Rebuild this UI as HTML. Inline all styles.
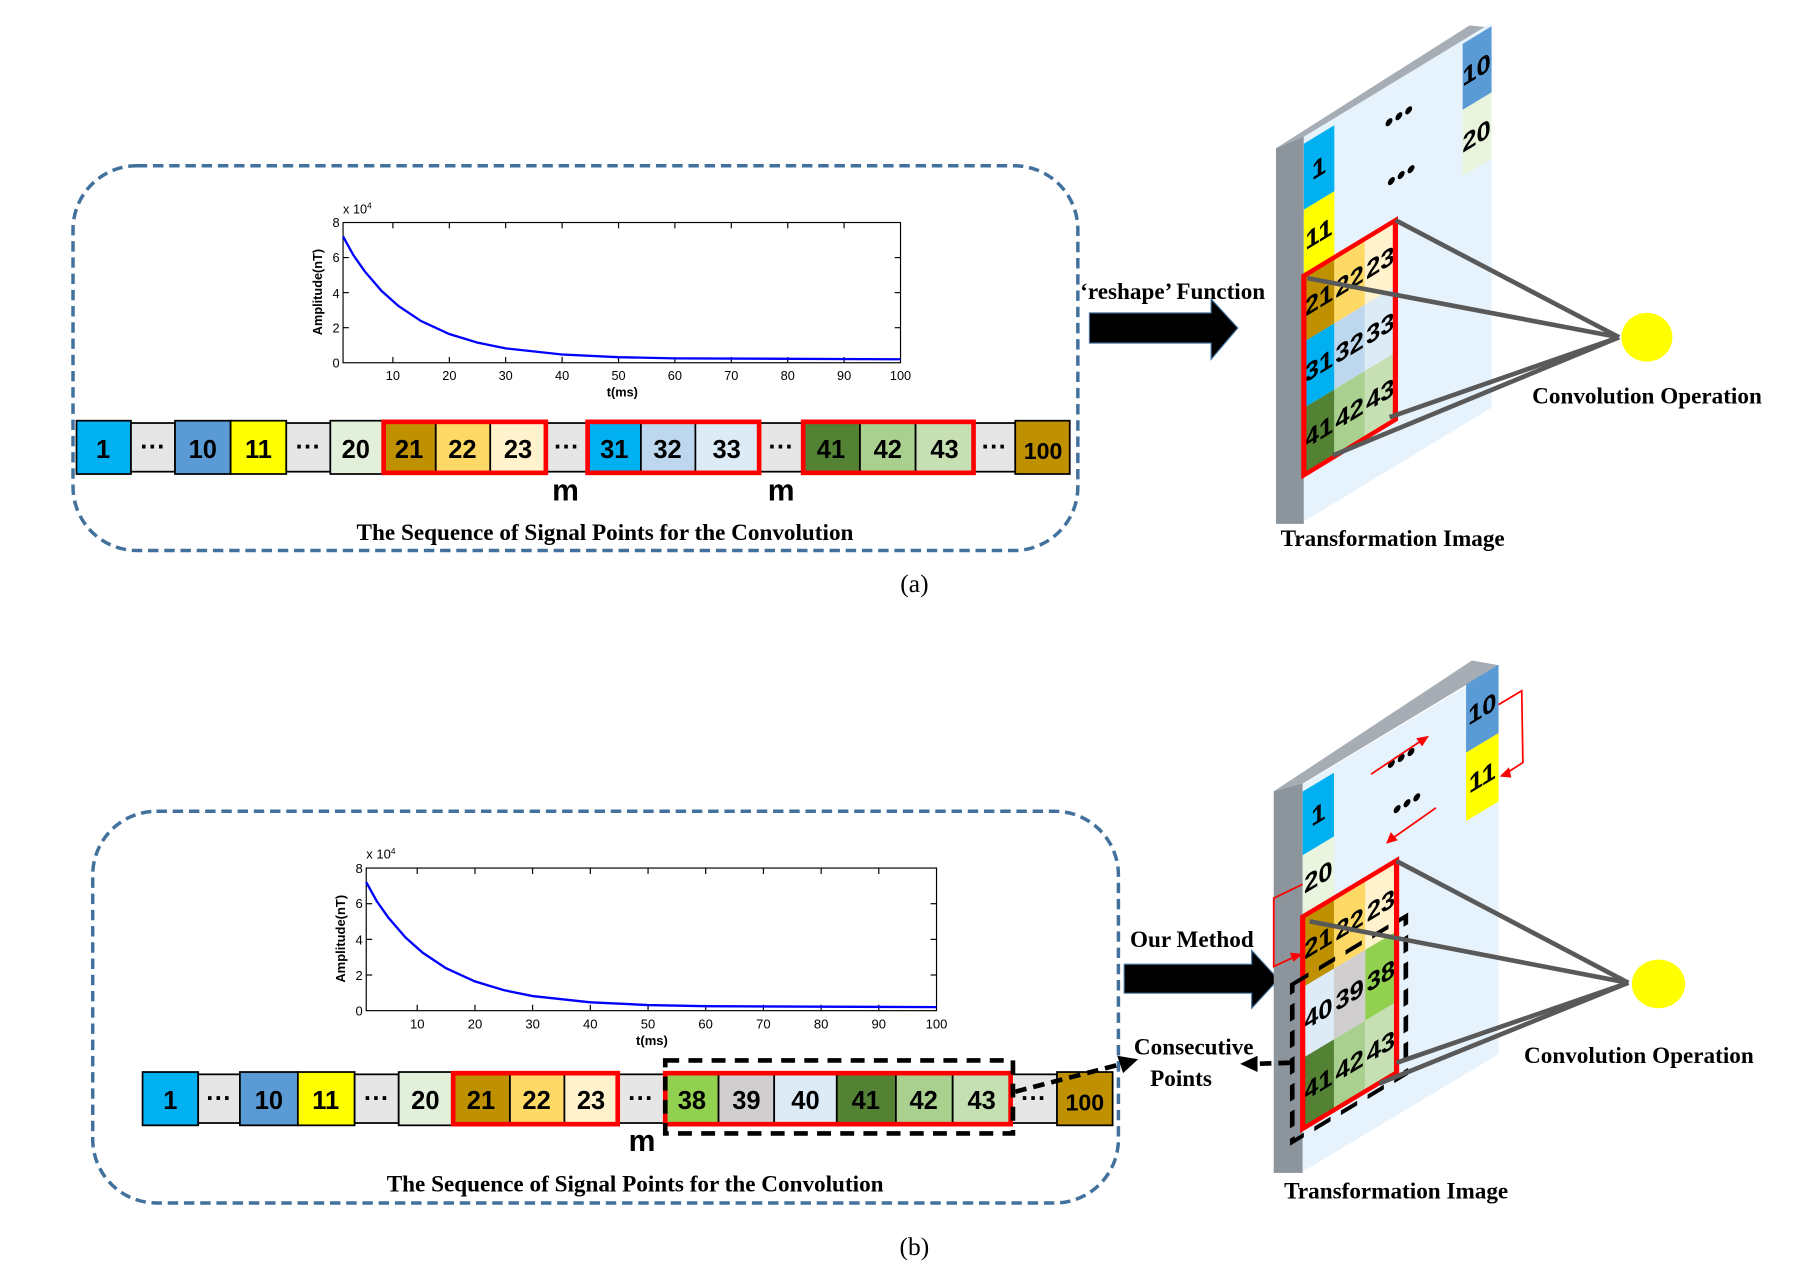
<!DOCTYPE html>
<html><head><meta charset="utf-8"><style>
html,body{margin:0;padding:0;background:#fff;}
svg{display:block;}
.c{font-family:"Liberation Sans Narrow","Liberation Sans",sans-serif;font-weight:bold;font-size:22px;text-anchor:middle;fill:#000;}
.cap{font-family:"Liberation Serif",serif;font-weight:bold;font-size:20px;fill:#000;}
.ax{font-family:"Liberation Sans",sans-serif;font-size:11px;fill:#000;}
.m{font-family:"Liberation Sans",sans-serif;font-weight:bold;font-size:26px;text-anchor:middle;}
</style></head><body>
<svg width="1808" height="1276" viewBox="0 0 1560 1101" preserveAspectRatio="none" xmlns="http://www.w3.org/2000/svg">
<defs>
<g id="plot">
  <rect x="0" y="0" width="481" height="121" fill="#fff" stroke="#000" stroke-width="1"/>
  <g stroke="#000" stroke-width="1">
    <line x1="43" y1="121" x2="43" y2="116"/><line x1="91.7" y1="121" x2="91.7" y2="116"/><line x1="140.3" y1="121" x2="140.3" y2="116"/><line x1="189" y1="121" x2="189" y2="116"/><line x1="237.7" y1="121" x2="237.7" y2="116"/><line x1="286.3" y1="121" x2="286.3" y2="116"/><line x1="335" y1="121" x2="335" y2="116"/><line x1="383.7" y1="121" x2="383.7" y2="116"/><line x1="432.3" y1="121" x2="432.3" y2="116"/>
    <line x1="43" y1="0" x2="43" y2="5"/><line x1="91.7" y1="0" x2="91.7" y2="5"/><line x1="140.3" y1="0" x2="140.3" y2="5"/><line x1="189" y1="0" x2="189" y2="5"/><line x1="237.7" y1="0" x2="237.7" y2="5"/><line x1="286.3" y1="0" x2="286.3" y2="5"/><line x1="335" y1="0" x2="335" y2="5"/><line x1="383.7" y1="0" x2="383.7" y2="5"/><line x1="432.3" y1="0" x2="432.3" y2="5"/>
    <line x1="0" y1="90.75" x2="5" y2="90.75"/><line x1="0" y1="60.5" x2="5" y2="60.5"/><line x1="0" y1="30.25" x2="5" y2="30.25"/>
    <line x1="481" y1="90.75" x2="476" y2="90.75"/><line x1="481" y1="60.5" x2="476" y2="60.5"/><line x1="481" y1="30.25" x2="476" y2="30.25"/>
  </g>
  <polyline fill="none" stroke="#0000ff" stroke-width="2" points="0,12 9,28.3 18.6,42 33.2,59 47.8,72 67.3,85 91.6,96.2 116,103.6 140.3,108.6 189,113.9 237.6,116.2 286.3,117.2 481,118"/>
  <g class="ax" text-anchor="end"><text x="-3" y="125">0</text><text x="-3" y="95">2</text><text x="-3" y="65">4</text><text x="-3" y="34">6</text><text x="-3" y="4">8</text></g>
  <g class="ax" text-anchor="middle"><text x="43" y="136">10</text><text x="91.7" y="136">20</text><text x="140.3" y="136">30</text><text x="189" y="136">40</text><text x="237.7" y="136">50</text><text x="286.3" y="136">60</text><text x="335" y="136">70</text><text x="383.7" y="136">80</text><text x="432.3" y="136">90</text><text x="481" y="136">100</text>
  <text x="241" y="150" font-weight="bold">t(ms)</text></g>
  <text class="ax" x="0" y="-8">x 10<tspan font-size="7" dy="-4">4</tspan></text>
  <text class="ax" font-weight="bold" transform="translate(-18,60) rotate(-90)" text-anchor="middle">Amplitude(nT)</text>
</g>
</defs>

<!-- ============ (a) ============ -->
<rect x="63" y="143" width="867" height="332" rx="55" fill="none" stroke="#41719c" stroke-width="3" stroke-dasharray="9,5"/>
<use href="#plot" transform="translate(296,192)"/>

<g stroke="#000" stroke-width="1.5">
<rect x="66" y="363" width="47" height="46" fill="#00b0f0"/>
<rect x="113" y="365" width="38" height="42" fill="#e7e6e6"/>
<rect x="151" y="363" width="48" height="46" fill="#5b9bd5"/>
<rect x="199" y="363" width="48" height="46" fill="#ffff00"/>
<rect x="247" y="365" width="38" height="42" fill="#e7e6e6"/>
<rect x="285" y="363" width="45" height="46" fill="#e2efda"/>
<rect x="330" y="363" width="46" height="46" fill="#bf9000"/>
<rect x="376" y="363" width="47" height="46" fill="#ffd966"/>
<rect x="423" y="363" width="48" height="46" fill="#fff2cc"/>
<rect x="471" y="365" width="36" height="42" fill="#e7e6e6"/>
<rect x="507" y="363" width="46" height="46" fill="#00b0f0"/>
<rect x="553" y="363" width="47" height="46" fill="#bdd7ee"/>
<rect x="600" y="363" width="55" height="46" fill="#ddebf7"/>
<rect x="655" y="365" width="38" height="42" fill="#e7e6e6"/>
<rect x="693" y="363" width="49" height="46" fill="#548235"/>
<rect x="742" y="363" width="48" height="46" fill="#a9d08e"/>
<rect x="790" y="363" width="50" height="46" fill="#c6e0b4"/>
<rect x="840" y="365" width="36" height="42" fill="#e7e6e6"/>
<rect x="876" y="363" width="47" height="46" fill="#bf9000"/>
</g>
<g fill="none" stroke="#ff0000" stroke-width="4">
<rect x="331" y="364" width="140" height="44"/><rect x="507" y="364" width="148" height="44"/><rect x="693" y="364" width="147" height="44"/>
</g>
<g class="c">
<text x="89" y="395">1</text><text x="132" y="393">···</text><text x="175" y="395">10</text><text x="223" y="395">11</text><text x="266" y="393">···</text><text x="307" y="395">20</text>
<text x="353" y="395">21</text><text x="399" y="395">22</text><text x="447" y="395">23</text><text x="489" y="393">···</text>
<text x="530" y="395">31</text><text x="576" y="395">32</text><text x="627" y="395">33</text><text x="674" y="393">···</text>
<text x="717" y="395">41</text><text x="766" y="395">42</text><text x="815" y="395">43</text><text x="858" y="393">···</text><text x="900" y="396" font-size="20">100</text>
</g>
<text class="m" x="488" y="432">m</text><text class="m" x="674" y="432">m</text>
<text class="cap" x="522" y="466" text-anchor="middle" font-size="21">The Sequence of Signal Points for the Convolution</text>
<text x="789" y="511" font-family="Liberation Serif,serif" font-size="22" text-anchor="middle">(a)</text>

<text class="cap" x="932" y="258">‘reshape’ Function</text>
<polygon points="940,270 1045,270 1045,258 1068,283 1045,310 1045,296 940,296" fill="#000" stroke="#41719c" stroke-width="1"/>

<!-- panel a -->
<polygon points="1101,128 1268,22 1287,24 1125,118 1125,452 1101,452" fill="#8c949c"/>
<polygon points="1101,128 1268,22 1287,24 1125,118" fill="#a6adb4"/>
<g transform="translate(1125,238) matrix(1,-0.607,0,1,0,0)">
  <rect x="0" y="-120" width="162" height="332" fill="#e6f2fc"/>
  <rect x="0" y="-114" width="26.3" height="57" fill="#00b0f0"/>
  <rect x="0" y="-57" width="26.3" height="57" fill="#ffff00"/>
  <rect x="137" y="-117" width="25" height="57" fill="#5b9bd5"/>
  <rect x="137" y="-60" width="25" height="57" fill="#e8f4dc"/>
  <rect x="0" y="0" width="26.3" height="57" fill="#bf9000"/>
  <rect x="26.3" y="0" width="26.3" height="57" fill="#ffd966"/>
  <rect x="52.6" y="0" width="26.4" height="57" fill="#fff2cc"/>
  <rect x="0" y="57" width="26.3" height="57" fill="#00b0f0"/>
  <rect x="26.3" y="57" width="26.3" height="57" fill="#bdd7ee"/>
  <rect x="52.6" y="57" width="26.4" height="57" fill="#ddebf7"/>
  <rect x="0" y="114" width="26.3" height="58" fill="#548235"/>
  <rect x="26.3" y="114" width="26.3" height="58" fill="#a9d08e"/>
  <rect x="52.6" y="114" width="26.4" height="58" fill="#c6e0b4"/>
  <g class="c" font-size="17">
    <text x="13" y="-78">1</text><text x="13" y="-21">11</text><text x="149" y="-80">10</text><text x="149" y="-23">20</text>
    <text x="13" y="36">21</text><text x="39.5" y="36">22</text><text x="66" y="36">23</text>
    <text x="13" y="93">31</text><text x="39.5" y="93">32</text><text x="66" y="93">33</text>
    <text x="13" y="150">41</text><text x="39.5" y="150">42</text><text x="66" y="150">43</text>
    <text x="82" y="-84" font-size="14">●●●</text><text x="84" y="-32" font-size="14">●●●</text>
  </g>
  <rect x="0" y="0" width="79" height="172" fill="none" stroke="#ff0000" stroke-width="4.5"/>
</g>
<g stroke="#595959" stroke-width="4" fill="none">
<line x1="1397" y1="291" x2="1204" y2="190"/><line x1="1397" y1="291" x2="1128" y2="240"/>
<line x1="1397" y1="291" x2="1199" y2="360"/><line x1="1397" y1="291" x2="1150" y2="393"/>
</g>
<ellipse cx="1421" cy="291" rx="22" ry="21" fill="#ffff00"/>
<text class="cap" x="1322" y="348">Convolution Operation</text>
<text class="cap" x="1105" y="471">Transformation Image</text>

<!-- ============ (b) ============ -->
<rect x="80" y="700" width="885" height="338" rx="55" fill="none" stroke="#41719c" stroke-width="3" stroke-dasharray="9,5"/>
<use href="#plot" transform="translate(316,749) scale(1.023,1.017)"/>

<g stroke="#000" stroke-width="1.5">
<rect x="123" y="925" width="48" height="46" fill="#00b0f0"/>
<rect x="171" y="927" width="36" height="42" fill="#e7e6e6"/>
<rect x="207" y="925" width="50" height="46" fill="#5b9bd5"/>
<rect x="257" y="925" width="49" height="46" fill="#ffff00"/>
<rect x="306" y="927" width="38" height="42" fill="#e7e6e6"/>
<rect x="344" y="925" width="46" height="46" fill="#e2efda"/>
<rect x="390" y="925" width="50" height="46" fill="#bf9000"/>
<rect x="440" y="925" width="47" height="46" fill="#ffd966"/>
<rect x="487" y="925" width="46" height="46" fill="#fff2cc"/>
<rect x="533" y="927" width="40" height="42" fill="#e7e6e6"/>
<rect x="573" y="925" width="47" height="46" fill="#92d050"/>
<rect x="620" y="925" width="48" height="46" fill="#d0cece"/>
<rect x="668" y="925" width="54" height="46" fill="#ddebf7"/>
<rect x="722" y="925" width="51" height="46" fill="#548235"/>
<rect x="773" y="925" width="49" height="46" fill="#a9d08e"/>
<rect x="822" y="925" width="50" height="46" fill="#c6e0b4"/>
<rect x="872" y="927" width="40" height="42" fill="#e7e6e6"/>
<rect x="912" y="925" width="48" height="46" fill="#bf9000"/>
</g>
<g fill="none" stroke="#ff0000" stroke-width="4">
<rect x="391" y="926" width="142" height="44"/><rect x="574" y="926" width="298" height="44"/>
</g>
<rect x="574" y="915" width="300" height="63" fill="none" stroke="#000" stroke-width="4" stroke-dasharray="12,8"/>
<g class="c">
<text x="147" y="957">1</text><text x="189" y="955">···</text><text x="232" y="957">10</text><text x="281" y="957">11</text><text x="325" y="955">···</text><text x="367" y="957">20</text>
<text x="415" y="957">21</text><text x="463" y="957">22</text><text x="510" y="957">23</text><text x="553" y="955">···</text>
<text x="597" y="957">38</text><text x="644" y="957">39</text><text x="695" y="957">40</text><text x="747" y="957">41</text><text x="797" y="957">42</text><text x="847" y="957">43</text><text x="892" y="955">···</text><text x="936" y="958" font-size="20">100</text>
</g>
<text class="m" x="554" y="993">m</text>
<line x1="876" y1="942" x2="968" y2="918" stroke="#000" stroke-width="4" stroke-dasharray="10,6"/>
<polygon points="982,914 964,911 969,926" fill="#000"/>
<text class="cap" x="548" y="1028" text-anchor="middle" font-size="21">The Sequence of Signal Points for the Convolution</text>
<text x="789" y="1083" font-family="Liberation Serif,serif" font-size="22" text-anchor="middle">(b)</text>

<text class="cap" x="975" y="817">Our Method</text>
<polygon points="970,832 1080,832 1080,820 1103,845 1080,870 1080,857 970,857" fill="#000" stroke="#41719c" stroke-width="1"/>
<text class="cap" x="1030" y="910" text-anchor="middle">Consecutive</text>
<text class="cap" x="1019" y="937" text-anchor="middle">Points</text>

<!-- panel b -->
<polygon points="1099,683 1270,570 1293,574 1124,676 1124,1012 1099,1012" fill="#8c949c"/>
<polygon points="1099,683 1270,570 1293,574 1124,676" fill="#a6adb4"/>
<g transform="translate(1124,791) matrix(1,-0.6,0,1,0,0)">
  <rect x="0" y="-114" width="169" height="334" fill="#e6f2fc"/>
  <rect x="0" y="-108" width="27" height="55" fill="#00b0f0"/>
  <rect x="0" y="-53" width="27" height="53" fill="#eaf5e0"/>
  <rect x="141" y="-116" width="28" height="59" fill="#5b9bd5"/>
  <rect x="141" y="-57" width="28" height="59" fill="#ffff00"/>
  <rect x="0" y="0" width="27" height="61" fill="#bf9000"/>
  <rect x="27" y="0" width="27" height="61" fill="#ffd966"/>
  <rect x="54" y="0" width="27" height="61" fill="#fff2cc"/>
  <rect x="0" y="61" width="27" height="61" fill="#ddebf7"/>
  <rect x="27" y="61" width="27" height="61" fill="#d0cece"/>
  <rect x="54" y="61" width="27" height="61" fill="#92d050"/>
  <rect x="0" y="122" width="27" height="61" fill="#548235"/>
  <rect x="27" y="122" width="27" height="61" fill="#a9d08e"/>
  <rect x="54" y="122" width="27" height="61" fill="#c6e0b4"/>
  <g class="c" font-size="17">
    <text x="13.5" y="-73">1</text><text x="13.5" y="-19">20</text><text x="155" y="-79">10</text><text x="155" y="-20">11</text>
    <text x="13.5" y="38">21</text><text x="40.5" y="38">22</text><text x="67.5" y="38">23</text>
    <text x="13.5" y="99">40</text><text x="40.5" y="99">39</text><text x="67.5" y="99">38</text>
    <text x="13.5" y="160">41</text><text x="40.5" y="160">42</text><text x="67.5" y="160">43</text>
    <text x="85" y="-82" font-size="14">●●●</text><text x="90" y="-40" font-size="14">●●●</text>
  </g>
  <rect x="0" y="0" width="81" height="183" fill="none" stroke="#ff0000" stroke-width="4.5"/>
  <rect x="-9" y="53" width="98" height="136" fill="none" stroke="#000" stroke-width="4" stroke-dasharray="14,9"/>
</g>
<line x1="1113" y1="917" x2="1082" y2="918" stroke="#000" stroke-width="4" stroke-dasharray="10,6"/>
<polygon points="1070,918 1085,911 1085,925" fill="#000"/>
<g stroke="#ff0000" stroke-width="1.5" fill="none">
<polyline points="1293,608 1313,596 1314,658 1300,667"/>
<line x1="1183" y1="668" x2="1225" y2="640"/>
<line x1="1239" y1="697" x2="1202" y2="723"/>
<polyline points="1124,763 1099,775 1099,834 1116,826"/>
</g>
<g fill="#ff0000">
<polygon points="1294,670 1302,662 1304,671"/>
<polygon points="1233,635 1222,637 1227,644"/>
<polygon points="1196,728 1200,718 1206,725"/>
<polygon points="1124,823 1113,822 1116,830"/>
</g>
<g stroke="#595959" stroke-width="4" fill="none">
<line x1="1405" y1="848" x2="1205" y2="743"/><line x1="1405" y1="848" x2="1130" y2="795"/>
<line x1="1405" y1="848" x2="1205" y2="917"/><line x1="1405" y1="848" x2="1190" y2="935"/>
</g>
<ellipse cx="1431" cy="849" rx="23" ry="21" fill="#ffff00"/>
<text class="cap" x="1315" y="917">Convolution Operation</text>
<text class="cap" x="1108" y="1034">Transformation Image</text>
</svg>
</body></html>
